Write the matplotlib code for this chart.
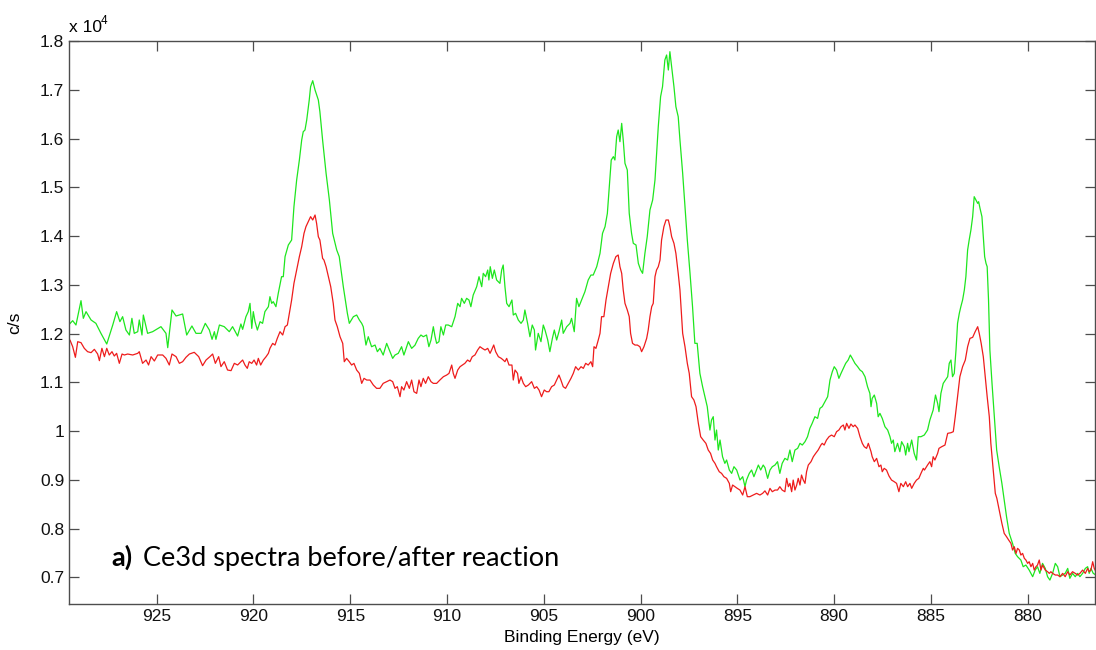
import matplotlib
matplotlib.use("Agg")
import matplotlib.pyplot as plt
from matplotlib.ticker import FuncFormatter

# Ce3d XPS spectra, binding energy (eV) vs counts per second
green_ev = [
    929.60, 929.34, 929.17, 928.91, 928.79, 928.65, 928.39, 928.14, 927.88, 927.58,
    927.27, 927.07, 926.90, 926.76, 926.59, 926.41, 926.28, 926.16, 925.98, 925.90,
    925.76, 925.69, 925.47, 925.21, 924.78, 924.52, 924.43, 924.21, 924.00, 923.83,
    923.66, 923.45, 923.18, 922.97, 922.71, 922.49, 922.28, 922.14, 922.02, 921.94,
    921.76, 921.51, 921.25, 921.08, 920.82, 920.65, 920.56, 920.39, 920.27, 920.18,
    920.09, 920.01, 919.92, 919.80, 919.66, 919.53, 919.41, 919.23, 919.15, 919.06,
    918.98, 918.84, 918.72, 918.55, 918.46, 918.37, 918.20, 918.03, 917.91, 917.77,
    917.63, 917.51, 917.43, 917.34, 917.25, 917.12, 917.05, 916.94, 916.82, 916.65,
    916.57, 916.43, 916.25, 916.08, 915.91, 915.70, 915.57, 915.36, 915.15, 915.05,
    914.84, 914.67, 914.53, 914.41, 914.33, 914.19, 914.07, 913.90, 913.72, 913.60,
    913.47, 913.30, 913.12, 912.95, 912.81, 912.69, 912.52, 912.35, 912.23, 912.00,
    911.83, 911.66, 911.49, 911.35, 911.23, 911.06, 910.94, 910.83, 910.71, 910.62,
    910.54, 910.42, 910.32, 910.19, 910.07, 909.94, 909.76, 909.59, 909.45, 909.33,
    909.25, 909.11, 908.99, 908.87, 908.77, 908.65, 908.47, 908.35, 908.21, 908.13,
    908.01, 907.90, 907.84, 907.77, 907.66, 907.56, 907.44, 907.27, 907.18, 907.10,
    907.01, 906.92, 906.80, 906.65, 906.58, 906.46, 906.32, 906.18, 906.06, 905.98,
    905.84, 905.72, 905.60, 905.49, 905.43, 905.29, 905.15, 905.03, 904.94, 904.80,
    904.69, 904.56, 904.46, 904.34, 904.22, 904.08, 904.00, 903.82, 903.65, 903.57,
    903.43, 903.31, 903.19, 903.05, 902.88, 902.71, 902.57, 902.45, 902.27, 902.10,
    901.97, 901.84, 901.72, 901.62, 901.52, 901.41, 901.33, 901.24, 901.16, 901.07,
    900.98, 900.90, 900.81, 900.69, 900.59, 900.47, 900.38, 900.24, 900.12, 900.00,
    899.90, 899.78, 899.66, 899.52, 899.38, 899.26, 899.09, 898.97, 898.87, 898.75,
    898.66, 898.57, 898.49, 898.40, 898.28, 898.18, 898.06, 897.97, 897.83, 897.71,
    897.59, 897.45, 897.32, 897.20, 897.08, 896.94, 896.80, 896.68, 896.56, 896.42,
    896.34, 896.25, 896.16, 896.08, 895.99, 895.90, 895.77, 895.65, 895.56, 895.42,
    895.30, 895.18, 895.04, 894.87, 894.73, 894.61, 894.53, 894.39, 894.27, 894.15,
    894.05, 893.92, 893.80, 893.67, 893.58, 893.44, 893.32, 893.20, 893.06, 892.93,
    892.81, 892.69, 892.55, 892.41, 892.29, 892.17, 892.03, 891.89, 891.77, 891.65,
    891.51, 891.38, 891.26, 891.14, 891.00, 890.86, 890.74, 890.62, 890.48, 890.34,
    890.22, 890.10, 890.00, 889.88, 889.76, 889.65, 889.53, 889.41, 889.28, 889.17,
    889.07, 888.93, 888.79, 888.67, 888.55, 888.41, 888.28, 888.16, 888.10, 888.04,
    887.93, 887.81, 887.73, 887.64, 887.52, 887.38, 887.24, 887.12, 887.04, 886.95,
    886.87, 886.73, 886.61, 886.52, 886.38, 886.31, 886.21, 886.14, 886.00, 885.87,
    885.75, 885.66, 885.52, 885.35, 885.18, 885.06, 884.89, 884.77, 884.66, 884.59,
    884.49, 884.37, 884.14, 884.06, 883.97, 883.89, 883.80, 883.71, 883.63, 883.54,
    883.46, 883.37, 883.28, 883.20, 883.11, 883.03, 882.94, 882.85, 882.77, 882.68,
    882.59, 882.54, 882.47, 882.37, 882.30, 882.23, 882.16, 882.10, 882.03, 881.96,
    881.85, 881.73, 881.61, 881.48, 881.34, 881.22, 881.10, 880.96, 880.79, 880.65,
    880.53, 880.36, 880.24, 880.10, 879.93, 879.75, 879.62, 879.50, 879.38, 879.24,
    879.10, 878.98, 878.86, 878.72, 878.58, 878.46, 878.34, 878.20, 878.07, 877.94,
    877.83, 877.69, 877.55, 877.43, 877.31, 877.17, 877.03, 876.91, 876.83, 876.74,
    876.62, 876.48,
]
green_cps = [
    12155, 12264, 12175, 12674, 12312, 12449, 12278, 12209, 12004, 11785,
    12175, 12449, 12243, 12346, 12073, 11970, 12312, 12004, 12038, 12278,
    11970, 12380, 12004, 12038, 12141, 12004, 11710, 12483, 12360, 12380,
    12401, 11970, 12155, 12004, 12004, 12209, 12073, 11881, 12038, 11881,
    12175, 12141, 12038, 12141, 11949, 12196, 12086, 12346, 12449, 12619,
    12106, 12449, 12243, 12072, 12243, 12209, 12449, 12551, 12756, 12619,
    12654, 12551, 12825, 13166, 13166, 13577, 13816, 13918, 14602, 15149,
    15559, 15969, 16140, 16174, 16380, 16790, 17063, 17186, 16995, 16790,
    16551, 15969, 15286, 14739, 14055, 13713, 13577, 12961, 12414, 12209,
    12346, 12380, 12277, 12209, 12140, 11764, 11935, 11730, 11764, 11628,
    11696, 11559, 11798, 11628, 11491, 11559, 11594, 11730, 11559, 11833,
    11696, 11760, 11901, 11970, 11935, 11970, 11730, 11867, 12140, 11935,
    11799, 11833, 12140, 11970, 12175, 12175, 12140, 12346, 12619, 12551,
    12722, 12619, 12722, 12688, 12551, 12790, 12961, 13166, 12961, 13235,
    13166, 13303, 13098, 13371, 13132, 13303, 13098, 13029, 13303, 13406,
    12961, 12619, 12551, 12688, 12380, 12414, 12277, 12209, 12277, 12483,
    12209, 11935, 12175, 12072, 11662, 12004, 11833, 12175, 12072, 11867,
    11628, 11901, 12072, 11867, 12038, 12277, 12004, 12140, 12209, 12312,
    12038, 12722, 12551, 12688, 12858, 13098, 13200, 13200, 13371, 13645,
    14055, 14192, 14465, 15012, 15559, 15628, 15559, 16038, 16174, 15935,
    16311, 15969, 15491, 15354, 14465, 14055, 13850, 13816, 13440, 13303,
    13235, 13645, 13987, 14534, 14739, 15149, 16243, 16858, 17063, 17610,
    17713, 17405, 17781, 17473, 17063, 16653, 16448, 15969, 15286, 14602,
    13918, 13235, 12551, 11799, 11799, 11183, 10910, 10705, 10500, 10021,
    10226, 10295, 9816, 10021, 9611, 9816, 9474, 9337, 9406, 9201,
    9132, 9269, 9201, 8996, 9064, 8859, 8996, 9132, 9201, 9064,
    9166, 9303, 9201, 9303, 9250, 9030, 9200, 9269, 9303, 9372,
    9132, 9337, 9440, 9406, 9611, 9372, 9611, 9645, 9748, 9713,
    9782, 9884, 10055, 10158, 10294, 10260, 10465, 10500, 10602, 10705,
    11046, 11217, 11320, 11252, 11081, 11183, 11286, 11388, 11457, 11559,
    11491, 11388, 11320, 11252, 11217, 11115, 10910, 10773, 10500, 10670,
    10739, 10568, 10294, 10363, 10260, 10089, 10021, 9884, 9748, 9816,
    9577, 9748, 9577, 9782, 9679, 9508, 9748, 9577, 9816, 9542,
    9406, 9884, 9884, 9918, 10021, 10226, 10431, 10739, 10568, 10397,
    10773, 10978, 11115, 11388, 11457, 11115, 11183, 11662, 12209, 12414,
    12551, 12687, 12893, 13166, 13713, 13918, 14123, 14397, 14807, 14739,
    14670, 14704, 14568, 14397, 13986, 13576, 13440, 13371, 12687, 11662,
    10978, 10294, 9611, 9269, 8927, 8585, 8243, 7901, 7696, 7491,
    7423, 7355, 7218, 7252, 7149, 7013, 7149, 7218, 7081, 7286,
    7183, 7013, 6944, 7081, 7286, 7218, 7013, 7047, 7081, 7183,
    6979, 7081, 7013, 7081, 7013, 7081, 7183, 7218, 7081, 7183,
    7081, 7047,
]

red_ev = [
    929.69, 929.48, 929.34, 929.20, 929.08, 928.91, 928.74, 928.57, 928.39, 928.22,
    928.05, 927.96, 927.83, 927.70, 927.58, 927.45, 927.31, 927.19, 927.07, 926.93,
    926.79, 926.67, 926.50, 926.24, 925.98, 925.90, 925.73, 925.55, 925.42, 925.29,
    925.12, 924.95, 924.69, 924.52, 924.35, 924.21, 924.00, 923.83, 923.66, 923.49,
    923.31, 923.06, 922.83, 922.63, 922.45, 922.25, 922.11, 921.97, 921.80, 921.68,
    921.51, 921.34, 921.16, 920.99, 920.82, 920.65, 920.56, 920.44, 920.32, 920.22,
    920.09, 919.97, 919.84, 919.75, 919.63, 919.49, 919.35, 919.23, 919.15, 919.01,
    918.89, 918.77, 918.63, 918.49, 918.37, 918.25, 918.15, 918.03, 917.91, 917.77,
    917.63, 917.51, 917.39, 917.29, 917.17, 917.05, 916.94, 916.82, 916.74, 916.65,
    916.57, 916.43, 916.36, 916.25, 916.13, 916.01, 915.88, 915.79, 915.67, 915.53,
    915.39, 915.31, 915.19, 915.05, 914.93, 914.81, 914.67, 914.53, 914.41, 914.29,
    914.15, 913.98, 913.81, 913.64, 913.47, 913.30, 913.12, 912.95, 912.81, 912.69,
    912.57, 912.43, 912.35, 912.23, 912.09, 911.95, 911.83, 911.71, 911.57, 911.45,
    911.35, 911.23, 911.11, 910.97, 910.83, 910.71, 910.54, 910.37, 910.19, 910.02,
    909.90, 909.76, 909.68, 909.59, 909.45, 909.33, 909.21, 909.08, 908.94, 908.82,
    908.70, 908.56, 908.42, 908.30, 908.18, 908.04, 907.90, 907.78, 907.70, 907.59,
    907.49, 907.35, 907.20, 907.10, 907.01, 906.92, 906.80, 906.65, 906.58, 906.49,
    906.36, 906.29, 906.18, 906.06, 905.94, 905.80, 905.63, 905.49, 905.37, 905.25,
    905.12, 904.98, 904.86, 904.74, 904.60, 904.46, 904.34, 904.22, 904.12, 904.00,
    903.88, 903.74, 903.60, 903.48, 903.36, 903.22, 903.08, 902.96, 902.84, 902.71,
    902.57, 902.48, 902.41, 902.31, 902.19, 902.10, 902.02, 901.90, 901.79, 901.67,
    901.55, 901.41, 901.28, 901.16, 901.07, 900.98, 900.90, 900.81, 900.69, 900.59,
    900.52, 900.42, 900.29, 900.17, 900.04, 899.95, 899.83, 899.69, 899.61, 899.52,
    899.43, 899.35, 899.26, 899.18, 899.09, 899.00, 898.92, 898.80, 898.69, 898.57,
    898.49, 898.40, 898.28, 898.18, 898.06, 897.97, 897.83, 897.71, 897.59, 897.49,
    897.37, 897.25, 897.14, 897.02, 896.90, 896.77, 896.63, 896.51, 896.39, 896.28,
    896.16, 896.08, 895.94, 895.82, 895.70, 895.56, 895.42, 895.35, 895.25, 895.13,
    895.01, 894.87, 894.73, 894.61, 894.49, 894.36, 894.18, 894.01, 893.84, 893.70,
    893.58, 893.44, 893.32, 893.20, 893.06, 892.93, 892.81, 892.69, 892.55, 892.46,
    892.37, 892.29, 892.20, 892.12, 892.03, 891.94, 891.86, 891.77, 891.69, 891.60,
    891.51, 891.43, 891.34, 891.20, 891.08, 890.96, 890.83, 890.69, 890.62, 890.52,
    890.40, 890.27, 890.14, 890.00, 889.88, 889.76, 889.65, 889.53, 889.45, 889.36,
    889.24, 889.14, 889.02, 888.93, 888.79, 888.67, 888.55, 888.45, 888.33, 888.24,
    888.10, 888.04, 887.93, 887.81, 887.69, 887.59, 887.52, 887.42, 887.30, 887.17,
    887.04, 886.90, 886.78, 886.66, 886.56, 886.43, 886.31, 886.21, 886.09, 886.00,
    885.87, 885.75, 885.63, 885.52, 885.40, 885.34, 885.18, 885.06, 884.97, 884.89,
    884.80, 884.66, 884.59, 884.45, 884.28, 884.14, 883.97, 883.85, 883.75, 883.63,
    883.51, 883.37, 883.23, 883.11, 882.99, 882.85, 882.72, 882.59, 882.51, 882.41,
    882.30, 882.20, 882.10, 881.99, 881.91, 881.79, 881.68, 881.60, 881.48, 881.34,
    881.22, 881.10, 880.99, 880.87, 880.79, 880.70, 880.61, 880.53, 880.44, 880.36,
    880.27, 880.18, 880.10, 880.01, 879.93, 879.84, 879.75, 879.67, 879.58, 879.50,
    879.41, 879.32, 879.24, 879.10, 878.98, 878.89, 878.81, 878.72, 878.58, 878.46,
    878.34, 878.20, 878.07, 877.94, 877.83, 877.69, 877.55, 877.43, 877.31, 877.17,
    877.03, 876.91, 876.83, 876.74, 876.65, 876.57, 876.48,
]
red_cps = [
    11881, 11867, 11731, 11512, 11833, 11813, 11697, 11628, 11608, 11676,
    11580, 11444, 11697, 11526, 11697, 11560, 11628, 11539, 11594, 11389,
    11580, 11560, 11580, 11560, 11594, 11628, 11389, 11457, 11355, 11526,
    11437, 11560, 11560, 11491, 11355, 11580, 11526, 11389, 11423, 11512,
    11580, 11615, 11526, 11341, 11457, 11526, 11580, 11389, 11526, 11321,
    11423, 11252, 11239, 11389, 11355, 11423, 11457, 11354, 11286, 11422,
    11388, 11457, 11354, 11491, 11354, 11457, 11525, 11594, 11696, 11798,
    11764, 11901, 12038, 11970, 12140, 12175, 12414, 12687, 13029, 13303,
    13577, 13781, 14055, 14192, 14294, 14397, 14329, 14431, 14260, 13986,
    13918, 13542, 13508, 13371, 13166, 12961, 12619, 12277, 12140, 11935,
    11798, 11422, 11491, 11422, 11354, 11388, 11251, 11183, 10978, 11081,
    11046, 11046, 10944, 10876, 10876, 10978, 11013, 11046, 11013, 10876,
    10910, 10705, 10910, 10841, 11013, 10876, 11046, 10807, 10773, 11047,
    10910, 11081, 10978, 11115, 11013, 10978, 10978, 11047, 11115, 11149,
    11183, 11354, 11183, 11081, 11252, 11320, 11354, 11389, 11457, 11423,
    11525, 11560, 11662, 11730, 11696, 11662, 11696, 11594, 11662, 11765,
    11628, 11525, 11491, 11457, 11423, 11491, 11354, 11354, 11047, 11252,
    11183, 10978, 11115, 10978, 10910, 10944, 11013, 10876, 10910, 10842,
    10705, 10842, 10807, 10807, 10910, 10944, 11047, 11149, 11047, 10910,
    10876, 10978, 11081, 11183, 11320, 11252, 11320, 11286, 11389, 11354,
    11423, 11320, 11730, 11696, 11867, 12004, 12346, 12346, 12688, 12961,
    13235, 13440, 13577, 13611, 13371, 13235, 12893, 12619, 12483, 12346,
    12004, 11799, 11764, 11764, 11730, 11628, 11730, 11901, 12072, 12346,
    12551, 12619, 13166, 13303, 13371, 13508, 13918, 14192, 14329, 14329,
    14192, 13987, 13850, 13645, 13235, 12893, 12004, 11730, 11389, 11183,
    10705, 10637, 10500, 10158, 9884, 9816, 9748, 9611, 9542, 9406,
    9337, 9269, 9166, 9132, 9064, 9030, 8927, 8756, 8893, 8859,
    8825, 8790, 8688, 8859, 8654, 8654, 8688, 8722, 8688, 8722,
    8773, 8688, 8825, 8756, 8790, 8790, 8859, 8790, 8756, 9030,
    8859, 8927, 8756, 8995, 8790, 8893, 9030, 8893, 9098, 8995,
    8927, 9166, 9303, 9372, 9474, 9542, 9611, 9713, 9748, 9713,
    9816, 9884, 9918, 9884, 9987, 10021, 10089, 10124, 10021, 10158,
    10055, 10144, 10089, 10124, 10055, 9884, 9748, 9679, 9645, 9748,
    9577, 9474, 9372, 9440, 9269, 9303, 9166, 9235, 9200, 9077,
    8995, 8961, 8927, 8756, 8927, 8859, 8961, 8859, 8927, 8825,
    8927, 8995, 9030, 9132, 9235, 9200, 9303, 9372, 9269, 9474,
    9406, 9542, 9645, 9679, 9713, 9953, 9966, 9987, 10294, 10705,
    11115, 11320, 11457, 11730, 11901, 11922, 12038, 12140, 12004, 11799,
    11525, 11115, 10705, 10294, 9747, 9200, 8722, 8620, 8380, 8107,
    7901, 7833, 7765, 7696, 7560, 7628, 7491, 7594, 7560, 7457,
    7491, 7389, 7355, 7286, 7320, 7218, 7286, 7149, 7218, 7252,
    7355, 7149, 7252, 7149, 7115, 7081, 7115, 7081, 7047, 7047,
    7013, 7081, 7013, 7115, 7047, 7115, 7081, 7047, 7081, 7149,
    7081, 7183, 7115, 7149, 7320, 7183, 7115,
]

x_ticks = [880, 885, 890, 895, 900, 905, 910, 915, 920, 925]
y_ticks = [7000, 8000, 9000, 10000, 11000, 12000, 13000, 14000, 15000, 16000, 17000, 18000]

plt.rcParams['font.family'] = ['Liberation Sans', 'DejaVu Sans']

fig = plt.figure(figsize=(10.96, 6.5), dpi=100)
ax = fig.add_axes([69 / 1096, 46.3 / 650, 1026 / 1096, 562.7 / 650])

ax.plot(green_ev, green_cps, color='#1ee61e', lw=0.9)
ax.plot(red_ev, red_cps, color='#ee1c1c', lw=0.9)

ax.set_xlim(929.53, 876.53)
ax.set_ylim(6459, 18000)
ax.set_xticks(x_ticks)
ax.set_yticks(y_ticks)
ax.yaxis.set_major_formatter(FuncFormatter(lambda v, p: f"{v / 1e4:g}"))

frame = '#4d4d4d'
for s in ax.spines.values():
    s.set_color(frame)
    s.set_linewidth(1.0)
ax.tick_params(direction='in', top=True, right=True, length=7.5, width=0.9,
               color=frame, labelsize=12.5, labelcolor='#111111', pad=3.5)

ax.set_xlabel('Binding Energy (eV)', fontsize=12.5)
ax.xaxis.set_label_coords(0.5, -0.046)
ax.set_ylabel('c/s', fontsize=12.5)
ax.yaxis.set_label_coords(-0.046, 0.5)

# MATLAB-style exponent above the y axis
fig.text(69 / 1096, 1 - 32 / 650, 'x 10', fontsize=12.5, va='baseline')
fig.text(101 / 1096, 1 - 24 / 650, '4', fontsize=8.5, va='baseline')

# panel annotation
fig.text(111 / 1096, 1 - 566 / 650, 'a)', family='Lato', weight='bold',
         fontsize=19.5, va='baseline')
fig.text(143 / 1096, 1 - 566 / 650, 'Ce3d spectra before/after reaction',
         family='Lato', fontsize=19.5, va='baseline')

fig.savefig('out.png', dpi=100)
